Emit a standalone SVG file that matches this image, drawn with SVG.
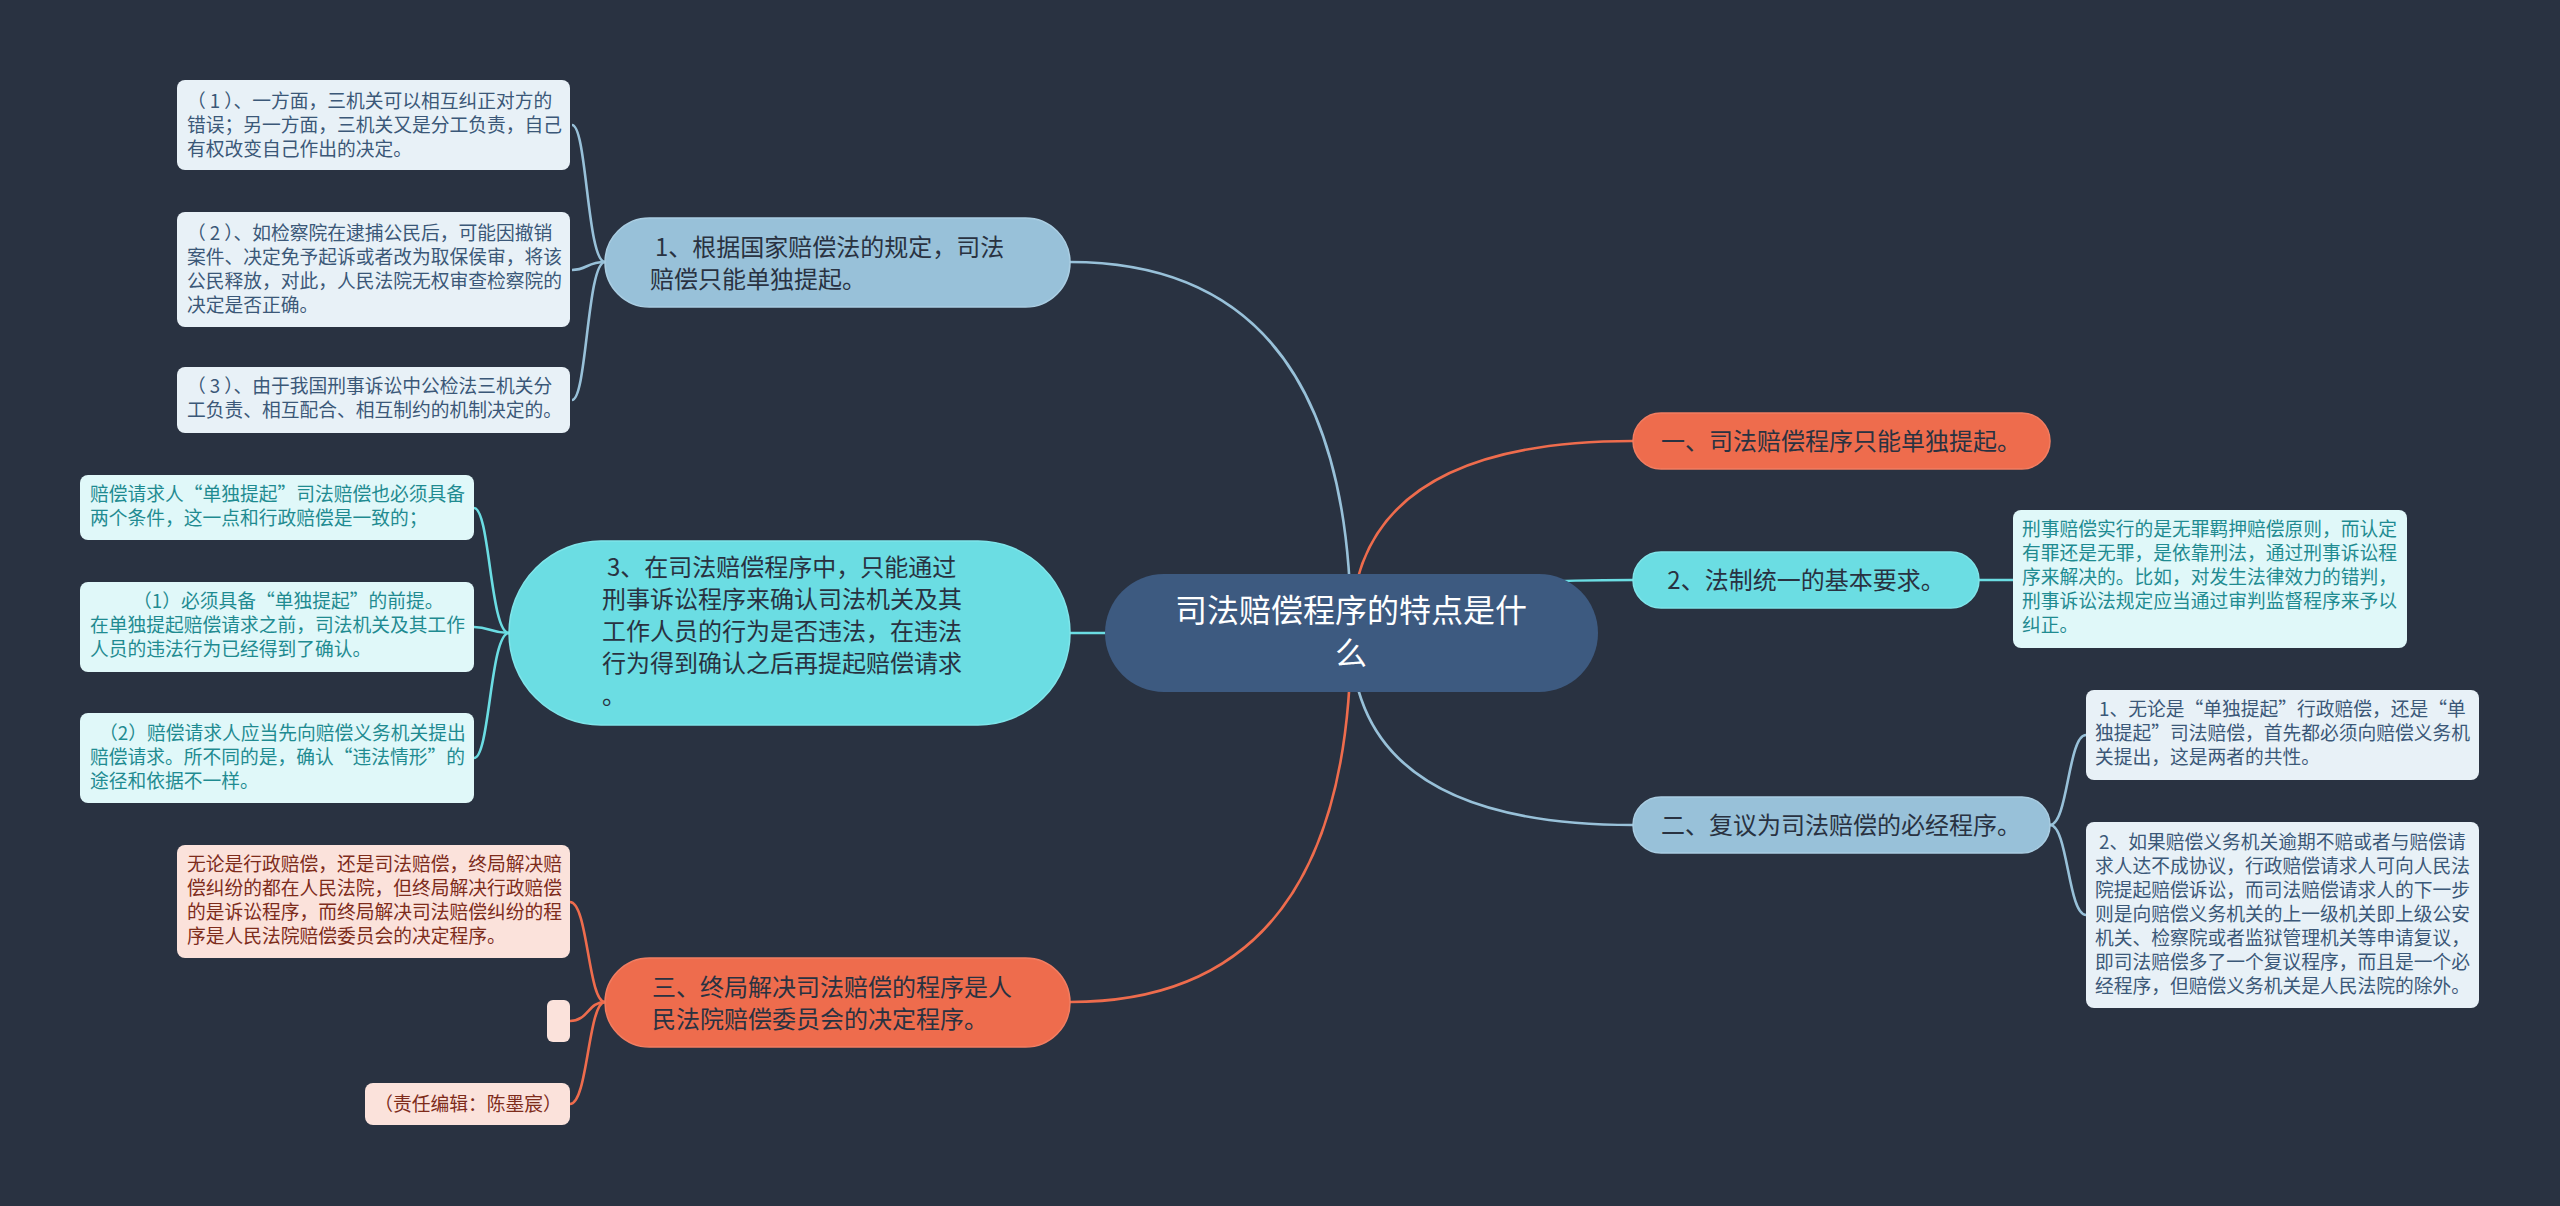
<svg xmlns="http://www.w3.org/2000/svg" width="2560" height="1206" viewBox="0 0 2560 1206">
<style>
text{font-family:"Noto Sans CJK SC","Liberation Sans",sans-serif;}
.bg{fill:#293241;}
.main-blue{fill:#98c1d9;stroke:#a9cde2;stroke-width:1.5;}
.main-cyan{fill:#6bdde3;stroke:#7fe5ea;stroke-width:1.5;}
.main-orange{fill:#ee6c4d;stroke:#f27d61;stroke-width:1.5;}
.sub-blue{fill:#e8f1f7;}
.sub-cyan{fill:#e0f8f9;}
.sub-orange{fill:#fbe2db;}
.t-main{font-size:24px;fill:#293241;}
.t-sb{font-size:18.75px;fill:#3b5878;}
.t-sc{font-size:18.75px;fill:#1f8b91;}
.t-so{font-size:18.75px;fill:#7e2c1b;}
.c{fill:none;stroke-width:2.6;}
.cb{stroke:#98c1d9;}
.cc{stroke:#6bdde3;}
.co{stroke:#ee6c4d;}
</style>
<rect class="bg" x="0" y="0" width="2560" height="1206"/>

<g id="connectors">
  <path class="c cb" d="M1351,633 Q1351,262 1070,262"/>
  <path class="c cc" d="M1351,633 L1070,633"/>
  <path class="c co" d="M1351,633 Q1351,1002 1070,1002"/>
  <path class="c co" d="M1351,633 Q1351,441 1633,441"/>
  <path class="c cc" d="M1351,633 Q1351,580 1633,580"/>
  <path class="c cb" d="M1351,633 Q1351,825 1633,825"/>
  <path class="c cb" d="M605,262 C587,262 587,125 572,125"/>
  <path class="c cb" d="M605,262 C587,262 587,270 572,270"/>
  <path class="c cb" d="M605,262 C587,262 587,400 572,400"/>
  <path class="c cc" d="M509,633 C490,633 490,508 474,508"/>
  <path class="c cc" d="M509,633 C490,633 490,627 474,627"/>
  <path class="c cc" d="M509,633 C490,633 490,758 474,758"/>
  <path class="c co" d="M605,1002 C588,1002 588,902 570,902"/>
  <path class="c co" d="M605,1002 C588,1002 588,1021 570,1021"/>
  <path class="c co" d="M605,1002 C588,1002 588,1104 570,1104"/>
  <path class="c cc" d="M1979,580 L2013,580"/>
  <path class="c cb" d="M2050,825 C2068,825 2068,735 2086,735"/>
  <path class="c cb" d="M2050,825 C2068,825 2068,915 2086,915"/>
</g>

<g id="center">
  <rect x="1105" y="574" width="493" height="118" rx="59" fill="#3d5a80"/>
  <text x="1351" y="622" font-size="32" fill="#ffffff" text-anchor="middle">司法赔偿程序的特点是什</text>
  <text x="1351" y="665" font-size="32" fill="#ffffff" text-anchor="middle">么</text>
</g>

<g id="n1">
  <rect class="main-blue" x="605" y="218" width="465" height="89" rx="44.5"/>
  <text class="t-main" x="655" y="256">1、根据国家赔偿法的规定，司法</text>
  <text class="t-main" x="650" y="288">赔偿只能单独提起。</text>
</g>
<g id="n1-1">
  <rect class="sub-blue" x="177" y="80" width="393" height="90" rx="8"/>
  <text class="t-sb" x="187" y="108">（<tspan dx="4">1</tspan><tspan dx="4">）、一方面，三机关可以相互纠正对方的</tspan></text>
  <text class="t-sb" x="187" y="132">错误；另一方面，三机关又是分工负责，自己</text>
  <text class="t-sb" x="187" y="156">有权改变自己作出的决定。</text>
</g>
<g id="n1-2">
  <rect class="sub-blue" x="177" y="212" width="393" height="115" rx="8"/>
  <text class="t-sb" x="187" y="240">（<tspan dx="4">2</tspan><tspan dx="4">）、如检察院在逮捕公民后，可能因撤销</tspan></text>
  <text class="t-sb" x="187" y="264">案件、决定免予起诉或者改为取保侯审，将该</text>
  <text class="t-sb" x="187" y="288">公民释放，对此，人民法院无权审查检察院的</text>
  <text class="t-sb" x="187" y="312">决定是否正确。</text>
</g>
<g id="n1-3">
  <rect class="sub-blue" x="177" y="367" width="393" height="66" rx="8"/>
  <text class="t-sb" x="187" y="393">（<tspan dx="4">3</tspan><tspan dx="4">）、由于我国刑事诉讼中公检法三机关分</tspan></text>
  <text class="t-sb" x="187" y="417">工负责、相互配合、相互制约的机制决定的。</text>
</g>

<g id="n3">
  <rect class="main-cyan" x="509" y="541" width="561" height="184" rx="92"/>
  <text class="t-main" x="607" y="576">3、在司法赔偿程序中，只能通过</text>
  <text class="t-main" x="602" y="608">刑事诉讼程序来确认司法机关及其</text>
  <text class="t-main" x="602" y="640">工作人员的行为是否违法，在违法</text>
  <text class="t-main" x="602" y="672">行为得到确认之后再提起赔偿请求</text>
  <text class="t-main" x="602" y="704">。</text>
</g>
<g id="n3-1">
  <rect class="sub-cyan" x="80" y="475" width="394" height="65" rx="8"/>
  <text class="t-sc" x="90" y="501">赔偿请求人“单独提起”司法赔偿也必须具备</text>
  <text class="t-sc" x="90" y="525">两个条件，这一点和行政赔偿是一致的；</text>
</g>
<g id="n3-2">
  <rect class="sub-cyan" x="80" y="582" width="394" height="90" rx="8"/>
  <text class="t-sc" x="133" y="608">（1）必须具备“单独提起”的前提。</text>
  <text class="t-sc" x="90" y="632">在单独提起赔偿请求之前，司法机关及其工作</text>
  <text class="t-sc" x="90" y="656">人员的违法行为已经得到了确认。</text>
</g>
<g id="n3-3">
  <rect class="sub-cyan" x="80" y="713" width="394" height="90" rx="8"/>
  <text class="t-sc" x="99" y="740">（2）赔偿请求人应当先向赔偿义务机关提出</text>
  <text class="t-sc" x="90" y="764">赔偿请求。所不同的是，确认“违法情形”的</text>
  <text class="t-sc" x="90" y="788">途径和依据不一样。</text>
</g>

<g id="n3b">
  <rect class="main-orange" x="605" y="958" width="465" height="89" rx="44.5"/>
  <text class="t-main" x="652" y="996">三、终局解决司法赔偿的程序是人</text>
  <text class="t-main" x="652" y="1028">民法院赔偿委员会的决定程序。</text>
</g>
<g id="n3b-1">
  <rect class="sub-orange" x="177" y="845" width="393" height="113" rx="8"/>
  <text class="t-so" x="187" y="871">无论是行政赔偿，还是司法赔偿，终局解决赔</text>
  <text class="t-so" x="187" y="895">偿纠纷的都在人民法院，但终局解决行政赔偿</text>
  <text class="t-so" x="187" y="919">的是诉讼程序，而终局解决司法赔偿纠纷的程</text>
  <text class="t-so" x="187" y="943">序是人民法院赔偿委员会的决定程序。</text>
</g>
<g id="n3b-2">
  <rect class="sub-orange" x="547" y="1000" width="23" height="42" rx="6"/>
</g>
<g id="n3b-3">
  <rect class="sub-orange" x="365" y="1083" width="205" height="42" rx="8"/>
  <text class="t-so" x="468" y="1111" text-anchor="middle">（责任编辑：陈墨宸）</text>
</g>

<g id="r1">
  <rect class="main-orange" x="1633" y="413" width="417" height="56" rx="28"/>
  <text class="t-main" x="1841" y="450" text-anchor="middle">一、司法赔偿程序只能单独提起。</text>
</g>

<g id="r2">
  <rect class="main-cyan" x="1633" y="552" width="346" height="56" rx="28"/>
  <text class="t-main" x="1806" y="589" text-anchor="middle">2、法制统一的基本要求。</text>
</g>
<g id="r2-1">
  <rect class="sub-cyan" x="2013" y="510" width="394" height="138" rx="8"/>
  <text class="t-sc" x="2022" y="536">刑事赔偿实行的是无罪羁押赔偿原则，而认定</text>
  <text class="t-sc" x="2022" y="560">有罪还是无罪，是依靠刑法，通过刑事诉讼程</text>
  <text class="t-sc" x="2022" y="584">序来解决的。比如，对发生法律效力的错判，</text>
  <text class="t-sc" x="2022" y="608">刑事诉讼法规定应当通过审判监督程序来予以</text>
  <text class="t-sc" x="2022" y="632">纠正。</text>
</g>

<g id="r3">
  <rect class="main-blue" x="1633" y="797" width="417" height="56" rx="28"/>
  <text class="t-main" x="1841" y="834" text-anchor="middle">二、复议为司法赔偿的必经程序。</text>
</g>
<g id="r3-1">
  <rect class="sub-blue" x="2086" y="690" width="393" height="90" rx="8"/>
  <text class="t-sb" x="2099" y="716">1、无论是“单独提起”行政赔偿，还是“单</text>
  <text class="t-sb" x="2095" y="740">独提起”司法赔偿，首先都必须向赔偿义务机</text>
  <text class="t-sb" x="2095" y="764">关提出，这是两者的共性。</text>
</g>
<g id="r3-2">
  <rect class="sub-blue" x="2086" y="822" width="393" height="186" rx="8"/>
  <text class="t-sb" x="2099" y="849">2、如果赔偿义务机关逾期不赔或者与赔偿请</text>
  <text class="t-sb" x="2095" y="873">求人达不成协议，行政赔偿请求人可向人民法</text>
  <text class="t-sb" x="2095" y="897">院提起赔偿诉讼，而司法赔偿请求人的下一步</text>
  <text class="t-sb" x="2095" y="921">则是向赔偿义务机关的上一级机关即上级公安</text>
  <text class="t-sb" x="2095" y="945">机关、检察院或者监狱管理机关等申请复议，</text>
  <text class="t-sb" x="2095" y="969">即司法赔偿多了一个复议程序，而且是一个必</text>
  <text class="t-sb" x="2095" y="993">经程序，但赔偿义务机关是人民法院的除外。</text>
</g>
</svg>
